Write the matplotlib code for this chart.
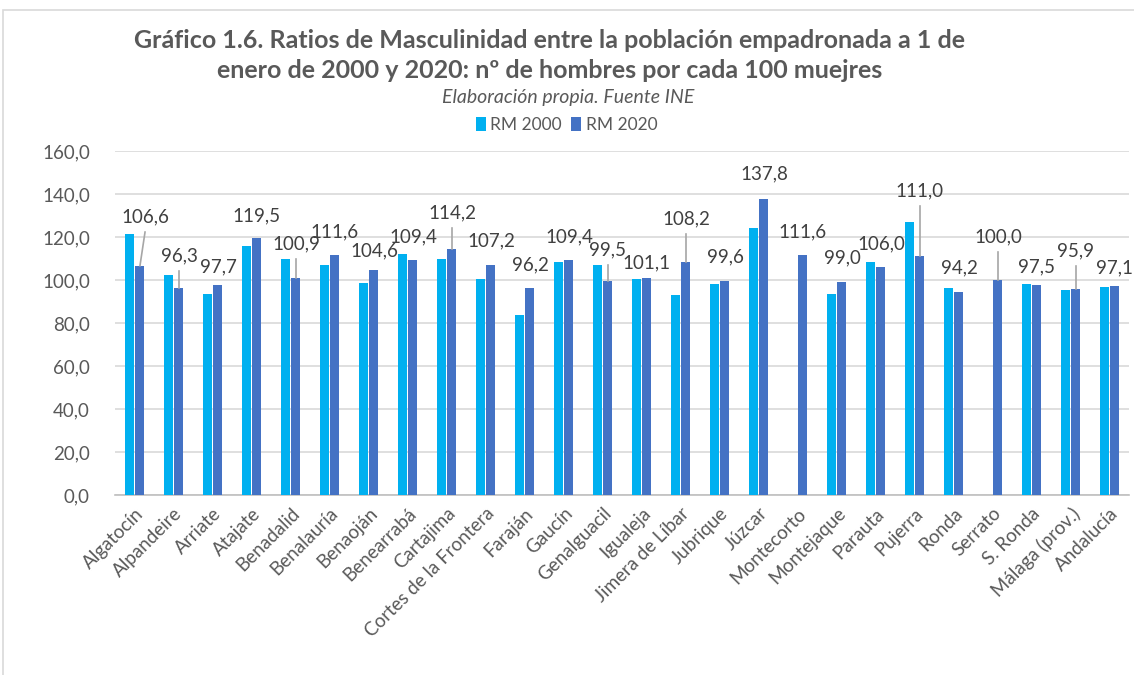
import numpy as np
import matplotlib.pyplot as plt
from matplotlib.patches import Rectangle

plt.rcParams['font.family'] = ['Lato', 'DejaVu Sans']

# Datos: ratio de masculinidad (hombres por cada 100 mujeres)
municipios = ['Algatocín', 'Alpandeire', 'Arriate', 'Atajate', 'Benadalid',
              'Benalauría', 'Benaoján', 'Benearrabá', 'Cartajima',
              'Cortes de la Frontera', 'Faraján', 'Gaucín', 'Genalguacil',
              'Igualeja', 'Jimera de Líbar', 'Jubrique', 'Júzcar', 'Montecorto',
              'Montejaque', 'Parauta', 'Pujerra', 'Ronda', 'Serrato', 'S. Ronda',
              'Málaga (prov.)', 'Andalucía']
rm_2000 = [121.3, 102.5, 93.3, 115.8, 109.6, 107.0, 98.8, 112.1, 109.9,
           100.5, 83.6, 108.5, 106.8, 100.5, 92.9, 98.3, 124.0, np.nan,
           93.5, 108.2, 126.8, 96.1, np.nan, 98.0, 95.2, 96.7]
rm_2020 = [106.6, 96.3, 97.7, 119.5, 100.9, 111.6, 104.6, 109.4, 114.2,
           107.2, 96.2, 109.4, 99.5, 101.1, 108.2, 99.6, 137.8, 111.6,
           99.0, 106.0, 111.0, 94.2, 100.0, 97.5, 95.9, 97.1]

# Posición vertical de las etiquetas (colocadas a mano en el original)
label_y = [129.3, 111.2, 106.0, 129.8, 116.7, 122.3, 113.5, 120.0, 131.2,
           118.1, 107.0, 120.0, 114.0, 107.9, 128.4, 110.7, 149.3, 122.3,
           110.2, 116.7, 141.4, 105.6, 120.0, 106.0, 113.5, 105.6]

c2000 = '#00B0F0'
c2020 = '#4472C4'
txt = '#595959'

fig = plt.figure(figsize=(11.34, 6.75), dpi=100)
# marco del gráfico
fig.patches.append(Rectangle((3 / 1134, -0.1), 1.2, 0.1 + 1 - 10 / 675,
                             transform=fig.transFigure, fill=False,
                             edgecolor='#d9d9d9', linewidth=1.2))

ax = fig.add_axes([115 / 1134, 1 - 495 / 675, (1129 - 115) / 1134, (495 - 151) / 675])

x = np.arange(len(municipios))
w = 0.23
ax.bar(x - 0.14, rm_2000, w, color=c2000, label='RM 2000', zorder=3)
ax.bar(x + 0.14, rm_2020, w, color=c2020, label='RM 2020', zorder=3)

for i, (v, ly) in enumerate(zip(rm_2020, label_y)):
    lx = i + 0.14 + (0.13 if i == 0 else 0)
    ax.text(lx, ly, f'{v:.1f}'.replace('.', ','), ha='center', va='center',
            fontsize=13.5, color='#404040', zorder=5)
    if ly - v > 12:
        ax.plot([lx, i + 0.14], [ly - 7, v], color='#a6a6a6', lw=1.2, zorder=4)

ax.set_ylim(0, 160)
ax.set_xlim(-0.5, len(municipios) - 0.5)
ax.set_yticks(np.arange(0, 161, 20))
ax.set_yticklabels([f'{t:.1f}'.replace('.', ',') for t in np.arange(0, 161, 20)])
ax.set_xticks(x)
ax.set_xticklabels(municipios, rotation=45, ha='right', rotation_mode='anchor')
ax.tick_params(axis='y', length=0, pad=18, labelsize=13.5, labelcolor=txt)
ax.tick_params(axis='x', length=0, pad=7, labelsize=13.5, labelcolor=txt)
ax.grid(axis='y', color='#d9d9d9', lw=1.2, zorder=0)
for s in ['top', 'right', 'left']:
    ax.spines[s].set_visible(False)
ax.spines['bottom'].set_color('#bfbfbf')
ax.spines['bottom'].set_linewidth(1.2)

fig.text(0.485, 1 - 40 / 675, 'Gráfico 1.6. Ratios de Masculinidad entre la población empadronada a 1 de',
         ha='center', va='center', fontsize=18, fontweight='bold', color=txt)
fig.text(0.485, 1 - 70 / 675, 'enero de 2000 y 2020: nº de hombres por cada 100 muejres',
         ha='center', va='center', fontsize=18, fontweight='bold', color=txt)
fig.text(0.501, 1 - 98 / 675, 'Elaboración propia. Fuente INE',
         ha='center', va='center', fontsize=14, style='italic', color=txt)

fig.legend(loc='center', bbox_to_anchor=(0.4995, 1 - 125 / 675), ncol=2, frameon=False,
           fontsize=12.5, labelcolor=txt, handlelength=0.6, handleheight=0.9,
           handletextpad=0.25, columnspacing=0.5)

fig.savefig('out.png', dpi=100)
